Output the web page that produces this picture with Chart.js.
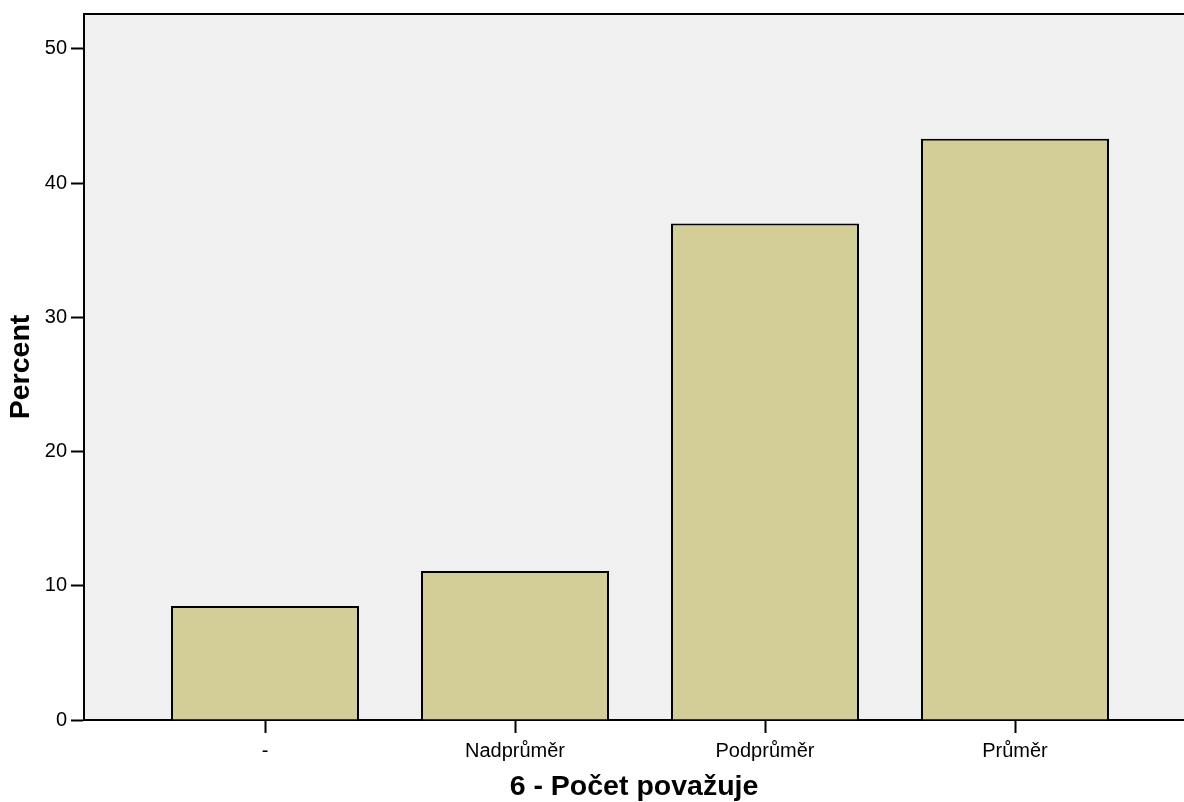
<!DOCTYPE html>
<html>
<head>
<meta charset="utf-8">
<script src="https://cdn.jsdelivr.net/npm/chart.js@4.4.1/dist/chart.umd.min.js"></script>
<style>
html,body{margin:0;padding:0;background:#fff;}
#wrap{width:1184px;height:802px;}
</style>
</head>
<body>
<div id="wrap"><canvas id="c" width="1184" height="802"></canvas></div>
<script>
const categories = ["-", "Nadprůměr", "Podprůměr", "Průměr"];
const percents = [8.5, 11.1, 37.0, 43.3];
const yTickValues = [0, 10, 20, 30, 40, 50];
const xTitle = "6 - Počet považuje";
const yTitle = "Percent";

const bgPlugin = {
  id: 'bg',
  beforeDraw(chart) {
    const {ctx, chartArea: a} = chart;
    ctx.save();
    ctx.fillStyle = '#f0f0f0';
    ctx.fillRect(a.left, a.top, a.right - a.left, a.bottom - a.top);
    ctx.strokeStyle = '#000';
    ctx.lineWidth = 2;
    ctx.beginPath();
    ctx.moveTo(a.left, a.top);
    ctx.lineTo(a.right, a.top);
    ctx.stroke();
    ctx.restore();
  }
};

new Chart(document.getElementById('c'), {
  type: 'bar',
  data: {
    datasets: [{
      data: categories.map((c, i) => ({x: i, y: percents[i]})),
      backgroundColor: '#d3ce98',
      borderColor: '#000',
      borderWidth: 2,
      barPercentage: 0.752,
      categoryPercentage: 1
    }]
  },
  options: {
    responsive: false,
    animation: false,
    layout: {padding: {left: 0, top: 14, right: 0, bottom: 0}},
    plugins: {legend: {display: false}, tooltip: {enabled: false}},
    scales: {
      x: {
        type: 'linear',
        offset: false,
        min: -0.724,
        max: 3.676,
        afterBuildTicks(scale) { scale.ticks = categories.map((c, i) => ({value: i})); },
        afterFit(scale) { scale.height = 82; },
        grid: {offset: false, drawOnChartArea: false, tickLength: 13, tickWidth: 2, tickColor: '#000'},
        border: {color: '#000', width: 2},
        ticks: {
          autoSkip: false, maxRotation: 0, padding: 8,
          color: '#000',
          font: {family: 'Liberation Sans', size: 20, lineHeight: 1.0},
          callback: (v) => categories[v]
        },
        title: {
          display: true, text: xTitle, color: '#000',
          font: {family: 'Liberation Sans', size: 28.5, weight: 'bold', lineHeight: 1.05},
          padding: {top: 0, bottom: 0}
        }
      },
      y: {
        min: 0,
        max: 52.6,
        afterBuildTicks(scale) { scale.ticks = yTickValues.map(v => ({value: v})); },
        afterFit(scale) { scale.width = 84; },
        grid: {drawOnChartArea: false, tickLength: 13, tickWidth: 2, tickColor: '#000'},
        border: {color: '#000', width: 2},
        ticks: {
          padding: 4, color: '#000',
          font: {family: 'Liberation Sans', size: 20, lineHeight: 1.0}
        },
        title: {
          display: true, text: yTitle, color: '#000',
          font: {family: 'Liberation Sans', size: 28.5, weight: 'bold', lineHeight: 1.05},
          padding: {top: 6, bottom: 0}
        }
      }
    }
  },
  plugins: [bgPlugin]
});
</script>
</body>
</html>
